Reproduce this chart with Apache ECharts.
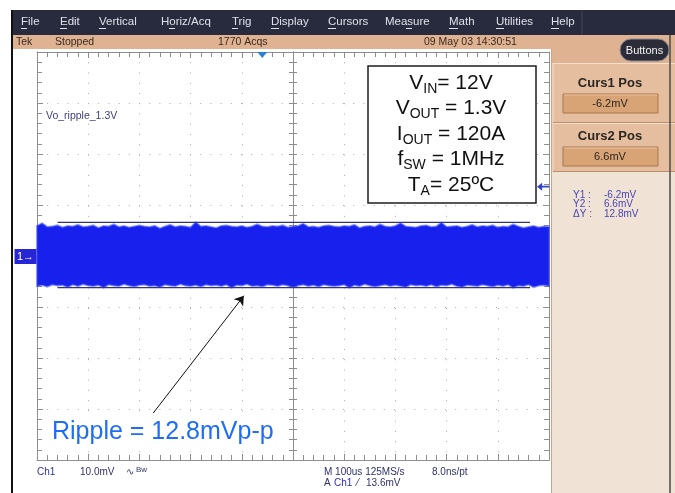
<!DOCTYPE html>
<html>
<head>
<meta charset="utf-8">
<title>Vo ripple 1.3V</title>
<script src="https://cdn.jsdelivr.net/npm/echarts@6.0.0/dist/echarts.min.js"></script>
<style>
  html, body { margin: 0; padding: 0; background: #ffffff; }
  #main { width: 675px; height: 493px; }
</style>
</head>
<body>
<div id="main"></div>
<script>
// ---- acquisition data (time in us, voltage in mV, 10 mV/div, 100 us/div) ----
const traceTime = [
  -500,-490,-480,-470,-460,-450,-440,-430,-420,-410,
  -400,-390,-380,-370,-360,-350,-340,-330,-320,-310,
  -300,-290,-280,-270,-260,-250,-240,-230,-220,-210,
  -200,-190,-180,-170,-160,-150,-140,-130,-120,-110,
  -100,-90,-80,-70,-60,-50,-40,-30,-20,-10,
  0,10,20,30,40,50,60,70,80,90,
  100,110,120,130,140,150,160,170,180,190,
  200,210,220,230,240,250,260,270,280,290,
  300,310,320,330,340,350,360,370,380,390,
  400,410,420,430,440,450,460,470,480,490,
  500
];
// upper envelope of the persisted ripple trace
const traceMax = [
  5.9, 6.4, 5.7, 5.8, 6.0, 5.6, 5.9, 5.8, 6.1, 5.7,
  5.8, 6.0, 5.5, 5.9, 5.8, 6.2, 5.7, 5.9, 5.6, 5.8,
  6.0, 5.8, 5.7, 5.9, 5.4, 5.8, 6.1, 5.7, 5.9, 5.8,
  5.6, 6.6, 5.8, 5.9, 5.7, 5.5, 5.9, 6.0, 5.8, 5.7,
  5.9, 5.6, 5.8, 6.2, 5.8, 5.7, 5.9, 5.8, 6.0, 5.6,
  5.8, 5.9, 6.3, 5.7, 5.8, 5.6, 5.9, 6.0, 5.8, 5.7,
  5.9, 5.8, 6.1, 5.5, 5.8, 5.9, 5.7, 6.2, 5.8, 5.7,
  5.9, 6.4, 5.8, 5.7, 5.6, 5.9, 6.0, 5.7, 5.8, 6.5,
  5.7, 5.8, 5.9, 5.6, 5.8, 6.1, 5.7, 5.9, 5.8, 6.0,
  5.6, 5.8, 5.7, 6.2, 5.8, 5.5, 5.7, 5.9, 5.6, 5.8,
  5.7
];
// lower envelope of the persisted ripple trace
const traceMin = [
  -5.9, -5.7, -6.0, -5.6, -5.8, -5.7, -6.1, -5.6, -5.9, -5.5,
  -5.8, -5.9, -5.7, -6.2, -5.6, -5.8, -5.9, -5.5, -5.8, -6.0,
  -5.7, -5.6, -5.9, -5.8, -6.1, -5.6, -5.8, -5.9, -5.5, -5.8,
  -5.9, -5.7, -6.0, -5.6, -5.8, -5.7, -5.9, -5.6, -6.2, -5.7,
  -5.8, -5.5, -5.9, -5.8, -6.0, -5.6, -5.7, -5.9, -5.6, -5.8,
  -6.1, -5.8, -5.6, -5.9, -5.7, -6.0, -5.6, -5.8, -5.9, -5.8,
  -5.6, -6.2, -5.7, -5.9, -5.5, -5.8, -6.0, -5.8, -5.6, -5.9,
  -5.7, -5.9, -6.1, -5.6, -5.8, -5.7, -5.9, -5.6, -6.0, -5.7,
  -5.8, -5.5, -5.9, -6.1, -5.7, -5.8, -5.9, -5.6, -5.8, -6.0,
  -5.7, -5.9, -5.6, -6.2, -5.8, -5.9, -5.6, -6.1, -5.8, -5.7,
  -5.9
];
// horizontal bar cursors (mV) and their drawn extent (us)
const cursorLevels = [-6.2, 6.6];
const cursorSpan = [-460, 463];
const cursorNames = ['Curs1 Pos', 'Curs2 Pos'];
const cursorReadouts = ['-6.2mV', '6.6mV'];
const cursorSummary = [['Y1 :', '-6.2mV'], ['Y2 :', '6.6mV'], ['\u0394Y :', '12.8mV']];
// trigger: level (mV) and horizontal position (us)
const triggerLevel = 13.6;
const triggerTime = -60;
// annotation arrow endpoints in (us, mV)
const noteArrow = [[-273, -30.8], [-96, -7.8]];
// axis ranges
const timeRange = [-500, 500];
const timeDiv = 100;
const voltRange = [-40, 40];
const voltDiv = 10;
// texts
const menuItems = ['File', 'Edit', 'Vertical', 'Horiz/Acq', 'Trig', 'Display', 'Cursors', 'Measure', 'Math', 'Utilities', 'Help'];
const statusTexts = ['Tek', 'Stopped', '1770 Acqs', '09 May 03 14:30:51'];
const conditionLines = [
  ['V', 'IN', '= 12V'],
  ['V', 'OUT', ' = 1.3V'],
  ['I', 'OUT', ' = 120A'],
  ['f', 'SW', ' = 1MHz'],
  ['T', 'A', '= 25\u00baC']
];
const rippleText = 'Ripple = 12.8mVp-p';
const traceLabel = 'Vo_ripple_1.3V';

// ---- layout ----
const menuX = [21, 60, 99, 161, 232, 271, 328, 385, 449, 496, 551];
const menuUnderline = [[0, 6], [0, 7], [0, 7], [8, 14], [0, 6], [0, 8], [0, 8], [21, 27], [0, 9], [0, 8], [0, 8]];
const statusX = [16, 55, 218, 424];
const conditionY = [83, 108.5, 134, 159.5, 185];

const FONT = '"Liberation Sans", Arial, sans-serif';
const tickColor = '#8e8e8e';
const dotColor = '#ababab';

const chart = echarts.init(document.getElementById('main'), null, { renderer: 'canvas', width: 675, height: 493 });

function frameAxis(position, withSplit, dash) {
  return {
    type: 'value', min: 0, max: 0, interval: 0, position: position,
    axisLine: { show: true, onZero: false, lineStyle: { color: tickColor, width: 1 } },
    axisTick: { show: true, inside: true, length: 6, lineStyle: { color: tickColor } },
    minorTick: { show: true, splitNumber: 5, length: 5, lineStyle: { color: tickColor } },
    splitLine: { show: withSplit, lineStyle: { color: dotColor, width: 1, type: dash } },
    axisLabel: { show: false }
  };
}
function centerAxis(position, inside) {
  return {
    type: 'value', min: 0, max: 0, interval: 0, position: position,
    axisLine: { show: true, onZero: true, onZeroAxisIndex: 0, lineStyle: { color: tickColor, width: 1 } },
    axisTick: { show: true, inside: inside, length: 4, lineStyle: { color: tickColor } },
    minorTick: { show: true, splitNumber: 5, length: 4, lineStyle: { color: tickColor } },
    splitLine: { show: false },
    axisLabel: { show: false }
  };
}
function withRange(ax, range, step) { ax.min = range[0]; ax.max = range[1]; ax.interval = step; return ax; }

const xAxes = [
  withRange(frameAxis('bottom', true, [1, 9.24]), timeRange, timeDiv),
  withRange(frameAxis('top', false, 'solid'), timeRange, timeDiv),
  withRange(centerAxis('bottom', true), timeRange, timeDiv),
  withRange(centerAxis('bottom', false), timeRange, timeDiv)
];
const yAxes = [
  withRange(frameAxis('left', true, [1, 9.2]), voltRange, voltDiv),
  withRange(frameAxis('right', false, 'solid'), voltRange, voltDiv),
  withRange(centerAxis('left', true), voltRange, voltDiv),
  withRange(centerAxis('left', false), voltRange, voltDiv)
];

// ---- screen furniture drawn as graphic elements ----
const graphics = [];
function rect(x, y, w, h, fill, stroke, extra) {
  graphics.push(Object.assign({ type: 'rect', shape: { x: x, y: y, width: w, height: h, r: (extra && extra.r) || 0 },
    style: { fill: fill, stroke: stroke || null, lineWidth: stroke ? 1 : 0 }, silent: true, z: (extra && extra.z) || 1 }));
}
function line(x1, y1, x2, y2, color, width, z) {
  graphics.push({ type: 'line', shape: { x1: x1, y1: y1, x2: x2, y2: y2 }, style: { stroke: color, lineWidth: width || 1 }, silent: true, z: z || 2 });
}
function text(str, x, y, size, color, opts) {
  opts = opts || {};
  graphics.push({ type: 'text', x: x, y: y, silent: true, z: opts.z || 3,
    style: { text: str, fill: color, fontSize: size, fontFamily: opts.family || FONT, fontWeight: opts.weight || 'normal',
      align: opts.align || 'left', verticalAlign: 'middle' } });
}

// window edge
line(12, 10, 12, 493, '#111111', 2, 2);
// menu bar
rect(12, 10, 663, 25, '#282a3e');
menuItems.forEach(function (m, i) {
  text(m, menuX[i], 22, 11.5, '#dfe0ea');
  line(menuX[i] + menuUnderline[i][0], 28.5, menuX[i] + menuUnderline[i][1], 28.5, '#dfe0ea', 1, 3);
});
line(582, 11, 582, 34, '#45485f', 1, 2);
// status bar
rect(12, 35, 663, 14, '#dfb292');
statusTexts.forEach(function (s, i) { text(s, statusX[i], 42, 10.5, '#3a2a20'); });
// side panel
rect(551, 49, 124, 14, '#dfb292');
rect(551, 63, 124, 109, '#e4be9e');
rect(551, 172, 124, 321, '#f0e2d5');
line(553, 63, 553, 172, '#f4dfcc', 1);
line(553, 63.5, 675, 63.5, '#f4dfcc', 1);
line(553, 122.5, 675, 122.5, '#b98e6e', 1);
line(553, 123.5, 675, 123.5, '#f4dfcc', 1);
line(553, 171.5, 675, 171.5, '#b98e6e', 1);
line(551.5, 49, 551.5, 493, '#c9a586', 1);
line(670, 35, 670, 493, '#4a4a4a', 1.5);
// Buttons
rect(620, 39, 49, 22, '#2c2c38', '#8a8a96', { r: 11, z: 4 });
text('Buttons', 644.5, 50.5, 11, '#f4f4f4', { align: 'center', z: 5 });
// cursor readouts
[[83, 94], [136, 147]].forEach(function (p, i) {
  text(cursorNames[i], 610, p[0], 13, '#2b2622', { align: 'center', weight: 'bold' });
  rect(563, p[1], 95, 19, '#d8a375', '#a9764f');
  line(564, p[1] + 1, 657, p[1] + 1, '#e9c29f', 1, 2);
  text(cursorReadouts[i], 610, p[1] + 9.5, 11, '#2b2622', { align: 'center' });
});
cursorSummary.forEach(function (r, i) {
  text(r[0], 573, 195 + i * 9.5, 10, '#4646b4');
  text(r[1], 604, 195 + i * 9.5, 10, '#4646b4');
});
// bottom readouts
text('Ch1', 37, 472, 10, '#30309a');
text('10.0mV', 80, 472, 10, '#30306e');
text('\u223f', 126, 472, 10, '#30306e');
text('Bw', 136, 470, 8, '#30306e');
text('M 100us 125MS/s', 324, 472, 10, '#30306e');
text('8.0ns/pt', 432, 472, 10, '#30306e');
text('A', 324, 483, 10, '#30306e');
text('Ch1', 334, 483, 10, '#2a2ad0');
text('\u2044', 357, 483, 10, '#30306e');
text('13.6mV', 366, 483, 10, '#30306e');
// trace label
text(traceLabel, 46, 116, 10.5, '#40407a', { z: 10 });
// operating conditions box
rect(368, 66, 168, 137, '#ffffff', '#1e1e1e', { z: 20 });
graphics[graphics.length - 1].style.lineWidth = 1.5;
conditionLines.forEach(function (c, i) {
  graphics.push({ type: 'text', x: 451, y: conditionY[i], silent: true, z: 21,
    style: { text: '{n|' + c[0] + '}{s|' + c[1] + '}{n|' + c[2] + '}', align: 'center', verticalAlign: 'middle',
      fill: '#111111', fontFamily: FONT, fontSize: 21,
      rich: {
        n: { fontSize: 21, fontFamily: FONT, fill: '#111111', lineHeight: 26 },
        s: { fontSize: 14, fontFamily: FONT, fill: '#111111', lineHeight: 10, verticalAlign: 'bottom' }
      } } });
});
// ripple caption
rect(43, 413, 244, 38, '#ffffff', null, { z: 20 });
text(rippleText, 52, 432, 25, '#1e6ef5', { z: 21 });

const option = {
  animation: false,
  backgroundColor: '#ffffff',
  grid: { left: 37, top: 52, width: 512, height: 408, show: false },
  xAxis: xAxes,
  yAxis: yAxes,
  graphic: graphics,
  series: [
    {
      name: 'Ch1 envelope',
      type: 'custom',
      xAxisIndex: 0, yAxisIndex: 0,
      silent: true,
      z: 2,
      data: [[traceTime[0], traceMax[0]]],
      renderItem: function (params, api) {
        const pts = [];
        for (let i = 0; i < traceTime.length; i++) pts.push(api.coord([traceTime[i], traceMax[i]]));
        for (let i = traceTime.length - 1; i >= 0; i--) pts.push(api.coord([traceTime[i], traceMin[i]]));
        return { type: 'polygon', shape: { points: pts },
          style: { fill: '#1820ee', stroke: 'rgba(50,70,245,0.55)', lineWidth: 2 } };
      }
    },
    {
      name: 'Curs1',
      type: 'line',
      xAxisIndex: 0, yAxisIndex: 0,
      z: 4,
      symbol: 'none',
      silent: true,
      lineStyle: { color: '#34347e', width: 1.2 },
      data: [[cursorSpan[0], cursorLevels[0]], [cursorSpan[1], cursorLevels[0]]],
      markPoint: {
        silent: true,
        data: [
          { name: 'ch1', coord: [timeRange[0], 0], symbol: 'rect', symbolSize: [22, 15], symbolOffset: [-11.5, 0.5],
            itemStyle: { color: '#2626d4' },
            label: { show: true, position: 'inside', formatter: '1\u2192', color: '#ffffff', fontSize: 11, fontFamily: FONT } },
          { name: 'trig level', coord: [timeRange[1], triggerLevel], symbol: 'path://M0,5 L6,0 L6,3.8 L14,3.8 L14,6.2 L6,6.2 L6,10 Z',
            symbolSize: [12, 8], symbolOffset: [-6, 0], itemStyle: { color: '#3344c4' }, label: { show: false } },
          { name: 'trig pos', coord: [triggerTime, voltRange[1]], symbol: 'triangle', symbolRotate: 180,
            symbolSize: [10, 6], symbolOffset: [0, 3], itemStyle: { color: '#2f80d2' }, label: { show: false } }
        ]
      },
      markLine: {
        silent: true,
        symbol: ['none', 'arrow'],
        symbolSize: 9,
        lineStyle: { color: '#111111', width: 1, type: 'solid' },
        label: { show: false },
        data: [[{ coord: noteArrow[0] }, { coord: noteArrow[1] }]]
      }
    },
    {
      name: 'Curs2',
      type: 'line',
      xAxisIndex: 0, yAxisIndex: 0,
      z: 4,
      symbol: 'none',
      silent: true,
      lineStyle: { color: '#34347e', width: 1.2 },
      data: [[cursorSpan[0], cursorLevels[1]], [cursorSpan[1], cursorLevels[1]]]
    }
  ]
};
chart.setOption(option);
</script>
</body>
</html>
